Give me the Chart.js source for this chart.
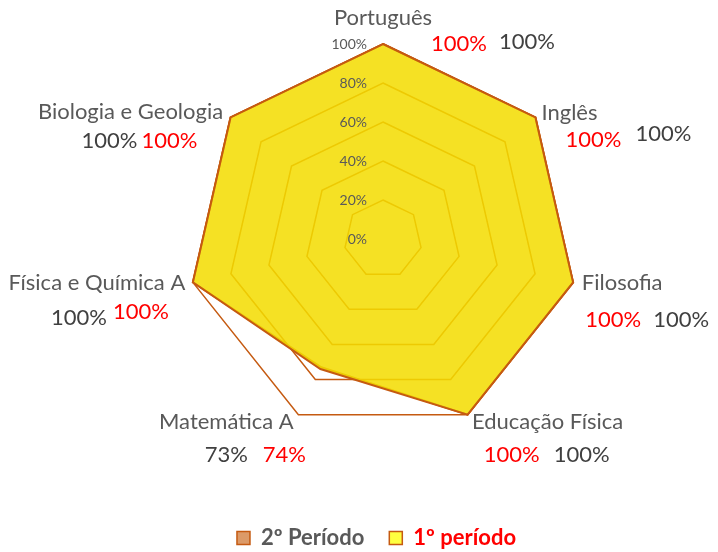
<!DOCTYPE html>
<html lang="pt">
<head>
<meta charset="utf-8">
<title>Radar períodos</title>
<script src="https://cdn.jsdelivr.net/npm/chart.js@4.4.1/dist/chart.umd.min.js"></script>
<style>
    html, body { margin: 0; padding: 0; background: #fff; }
    .chart_wrap { width: 718px; height: 552px; }
</style>
</head>
<body>
<div class="chart_wrap"><canvas id="chart_radar"></canvas></div>
<script>
// disciplinas
var disciplinas = ['Português', 'Inglês', 'Filosofia', 'Educação Física', 'Matemática A', 'Física e Química A', 'Biologia e Geologia'];

// percentagens de cada período
var periodo1 = [100, 100, 100, 100, 74, 100, 100];
var periodo2 = [100, 100, 100, 100, 73, 100, 100];

// eixo
var tickValues = [0, 20, 40, 60, 80, 100];
var tickLabels = ['0%', '20%', '40%', '60%', '80%', '100%'];

// posição dos rótulos, desvio a partir do vértice de 100%
var nomeOffset = [[0, -26], [34, -5], [49, 1], [80, 7], [-72, 7], [-96, 1], [-100, -6]];
var p1Offset = [[76, 0], [58, 22], [40, 38], [44, 40], [-14, 40], [-52, 30], [-61, 23]];
var p2Offset = [[144, -2], [128, 16], [108, 38], [114, 40], [-72, 40], [-114, 36], [-121, 23]];

var laranja = '#c55a11';
var cinza = '#595959';

// rótulos das disciplinas, valores e eixo
var rotulos = {
    id: 'rotulos',
    afterDatasetsDraw: function(chart) {
        var ctx = chart.ctx;
        var r = chart.scales.r;
        ctx.save();
        ctx.textAlign = 'center';
        ctx.textBaseline = 'middle';
        disciplinas.forEach(function(nome, i) {
            var p = r.getPointPosition(i, r.drawingArea);
            ctx.font = '22px Lato';
            ctx.fillStyle = cinza;
            ctx.fillText(nome, p.x + nomeOffset[i][0], p.y + nomeOffset[i][1]);
            ctx.fillStyle = '#ff0000';
            ctx.fillText(periodo1[i] + '%', p.x + p1Offset[i][0], p.y + p1Offset[i][1]);
            ctx.fillStyle = '#404040';
            ctx.fillText(periodo2[i] + '%', p.x + p2Offset[i][0], p.y + p2Offset[i][1]);
        });

        ctx.font = '14px Lato';
        ctx.textAlign = 'right';
        ctx.fillStyle = cinza;
        tickValues.forEach(function(v, i) {
            var d = r.getDistanceFromCenterForValue(v);
            ctx.fillText(tickLabels[i], r.xCenter - 16, r.yCenter - d);
        });
        ctx.restore();
    }
};

var legendFill = ['#ffff40', '#dc9a68'];
var legendFont = ['#ff0000', cinza];

var ctxR = document.getElementById('chart_radar');
var chartR = new Chart(ctxR, {
    type: 'radar',
    data: {
        labels: disciplinas,
        datasets: [{
            label: '1º período',
            data: periodo1,
            fill: true,
            backgroundColor: 'rgba(243, 220, 0, 0.86)',
            borderColor: laranja,
            borderWidth: 2,
            pointRadius: 0
        },
        {
            label: '2º Período',
            data: periodo2,
            fill: false,
            backgroundColor: '#dc9a68',
            borderColor: laranja,
            borderWidth: 2,
            pointRadius: 0
        }]
    },
    options: {
        responsive: true,
        maintainAspectRatio: false,
        animation: false,
        layout: {
            padding: { left: 35, bottom: -7 }
        },
        scales: {
            r: {
                min: 0,
                max: 100,
                ticks: { stepSize: 20, display: false },
                grid: { color: laranja, lineWidth: 1.5 },
                angleLines: { display: false },
                pointLabels: { display: false },
                afterFit: function(scale) {
                    // centro e raio como no original
                    scale.xCenter = 383;
                    scale.yCenter = 239;
                    scale.drawingArea = 195;
                }
            }
        },
        plugins: {
            tooltip: { enabled: false },
            legend: {
                position: 'bottom',
                reverse: true,
                labels: {
                    boxWidth: 13,
                    boxHeight: 13,
                    padding: 25,
                    font: { family: 'Lato', size: 22, weight: 'bold' },
                    generateLabels: function(chart) {
                        var items = Chart.defaults.plugins.legend.labels.generateLabels(chart);
                        items.forEach(function(it) {
                            it.fillStyle = legendFill[it.datasetIndex];
                            it.strokeStyle = laranja;
                            it.lineWidth = 1.5;
                            it.fontColor = legendFont[it.datasetIndex];
                        });
                        return items;
                    }
                }
            }
        }
    },
    plugins: [rotulos]
});
</script>
</body>
</html>
